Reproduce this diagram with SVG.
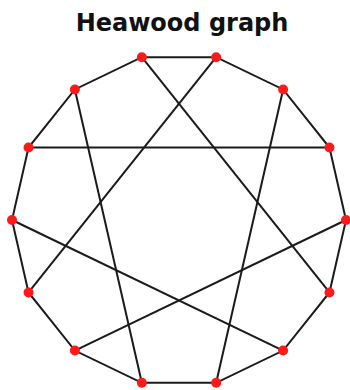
<svg xmlns="http://www.w3.org/2000/svg" width="350" height="390" viewBox="0 0 350 390">
<style>
.title{font-family:"DejaVu Sans","Liberation Sans",sans-serif;font-weight:bold;font-size:24px;fill:#111}
.e{stroke:#1a1a1a;stroke-width:2;fill:none}
.v{fill:#ff1a1a}
</style>
<rect width="350" height="390" fill="#fff"/>
<text class="title" x="182" y="31" text-anchor="middle">Heawood graph</text>
<g id="edges">
<polygon class="e" points="141.84,57.19 216.16,57.19 283.12,89.43 329.46,147.54 346,220 329.46,292.46 283.12,350.57 216.16,382.81 141.84,382.81 74.88,350.57 28.54,292.46 12,220 28.54,147.54 74.88,89.43"/>
<line class="e" x1="141.84" y1="57.19" x2="329.46" y2="292.46"/>
<line class="e" x1="216.16" y1="57.19" x2="28.54" y2="292.46"/>
<line class="e" x1="283.12" y1="89.43" x2="216.16" y2="382.81"/>
<line class="e" x1="329.46" y1="147.54" x2="28.54" y2="147.54"/>
<line class="e" x1="346" y1="220" x2="74.88" y2="350.57"/>
<line class="e" x1="283.12" y1="350.57" x2="12" y2="220"/>
<line class="e" x1="141.84" y1="382.81" x2="74.88" y2="89.43"/>
</g>
<g id="v0"><circle class="v" cx="141.84" cy="57.19" r="5"/></g>
<g id="v1"><circle class="v" cx="216.16" cy="57.19" r="5"/></g>
<g id="v2"><circle class="v" cx="283.12" cy="89.43" r="5"/></g>
<g id="v3"><circle class="v" cx="329.46" cy="147.54" r="5"/></g>
<g id="v4"><circle class="v" cx="346" cy="220" r="5"/></g>
<g id="v5"><circle class="v" cx="329.46" cy="292.46" r="5"/></g>
<g id="v6"><circle class="v" cx="283.12" cy="350.57" r="5"/></g>
<g id="v7"><circle class="v" cx="216.16" cy="382.81" r="5"/></g>
<g id="v8"><circle class="v" cx="141.84" cy="382.81" r="5"/></g>
<g id="v9"><circle class="v" cx="74.88" cy="350.57" r="5"/></g>
<g id="v10"><circle class="v" cx="28.54" cy="292.46" r="5"/></g>
<g id="v11"><circle class="v" cx="12" cy="220" r="5"/></g>
<g id="v12"><circle class="v" cx="28.54" cy="147.54" r="5"/></g>
<g id="v13"><circle class="v" cx="74.88" cy="89.43" r="5"/></g>
</svg>
